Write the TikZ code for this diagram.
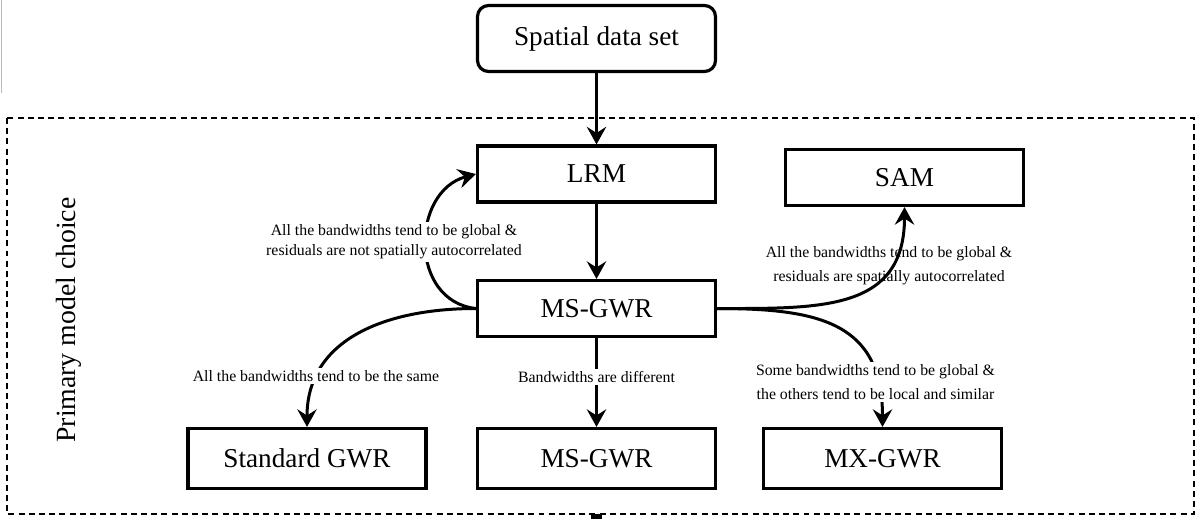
\documentclass[tikz,border=0pt]{standalone}
\usepackage{fontspec}
\setmainfont{Liberation Serif}
\usetikzlibrary{arrows.meta,positioning}
\tikzset{
  modelbox/.style={
    draw, rectangle, line width=1.8pt, inner sep=0pt,
    minimum width=4.76cm, minimum height=1.12cm,
    font=\fontsize{15.5}{18}\selectfont
  },
  startbox/.style={modelbox, rounded corners=0.22cm, minimum height=1.32cm},
  lowbox/.style={modelbox, minimum height=1.2cm},
  choice/.style={-{Stealth[length=10pt, width=11pt, inset=3.5pt]}, line width=1.7pt},
  condlabel/.style={font=\fontsize{9}{13.8}\selectfont, align=center, inner sep=1.5pt},
  groupframe/.style={draw, dash pattern=on 3.4pt off 2.4pt, line width=1.1pt}
}

\begin{document}
\begin{tikzpicture}
    \useasboundingbox (0,0) rectangle (24,-10.36);
    \draw[gray!55, line width=0.9pt] (0.03,0) -- (0.03,-1.85);
    % frame of the primary model choice
    \draw[groupframe] (0.14,-2.36) rectangle (23.88,-10.28);
    \coordinate (groupout) at (11.93,-10.28);
    \node[rotate=90, font=\fontsize{15.8}{18}\selectfont] (grouptitle) at (1.38,-6.4) {Primary model choice};

    \node[startbox] (data) at (11.93,-0.77) {Spatial data set};
    \node[modelbox] (LRM) at (11.93,-3.48) {LRM};
    \node[modelbox] (SAM) at (18.09,-3.55) {SAM};
    \node[modelbox] (MSGWR) at (11.93,-6.17) {MS-GWR};
    \node[lowbox] (StdGWR) at (6.14,-9.17) {Standard GWR};
    \node[lowbox] (MSGWRb) at (11.93,-9.17) {MS-GWR};
    \node[lowbox] (MXGWR) at (17.65,-9.17) {MX-GWR};

    \node[condlabel] (samcond) at (17.78,-5.31)
         {All the bandwidths tend to be global \&\\ residuals are spatially autocorrelated};

    \draw[choice] (data) -- (LRM);
    \draw[choice] (LRM) -- (MSGWR);
    \draw[choice] (MSGWR.west) .. controls +(-1.35,0.15) and +(-1.3,-0.35) .. (LRM.west);
    \draw[choice] (MSGWR.east) to[out=0, in=-90, looseness=1.25] (SAM.south);
    \draw[choice] (MSGWR.west) to[out=180, in=90, looseness=1.1] (StdGWR.north);
    \draw[choice] (MSGWR) -- (MSGWRb);
    \draw[choice] (MSGWR.east) to[out=0, in=90, looseness=1.3] (MXGWR.north);
    \draw[line width=6.5pt] (groupout) -- ++(0,-0.3);

    \node[condlabel, fill=white, font=\fontsize{9}{11.4}\selectfont] (lrmcond) at (7.88,-4.84)
         {All the bandwidths tend to be global \&\\ residuals are not spatially autocorrelated};
    \node[condlabel, fill=white] (stdcond) at (6.32,-7.52) {All the bandwidths tend to be the same};
    \node[condlabel, fill=white] (difcond) at (11.93,-7.54) {Bandwidths are different};
    \node[condlabel, fill=white] (mxcond) at (17.51,-7.64)
         {Some bandwidths tend to be global \&\\ the others tend to be local and similar};
\end{tikzpicture}
\end{document}
